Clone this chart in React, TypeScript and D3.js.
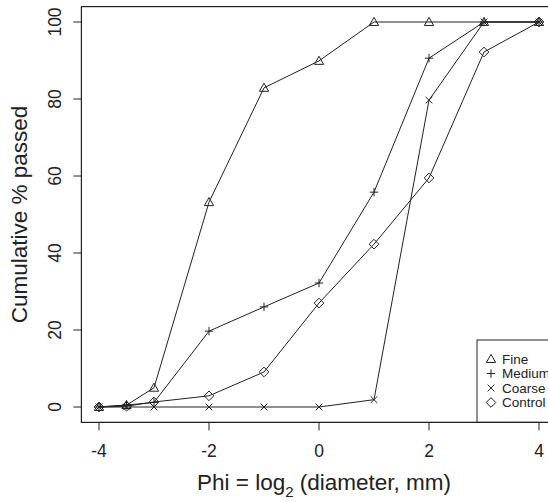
import React from "react";
import * as d3 from "d3";

const phi = [-4, -3.5, -3, -2, -1, 0, 1, 2, 3, 4];
const fine = [0, 0.5, 5, 53.2, 82.9, 89.9, 100, 100, 100, 100];
const medium = [0, 0.5, 1.2, 19.7, 26, 32.2, 55.8, 90.6, 100, 100];
const coarse = [0, 0, 0, 0, 0, 0, 1.9, 79.7, 100, 100];
const control = [0, 0.2, 1.3, 2.9, 9.1, 27, 42.3, 59.5, 92.2, 100];
const seriesNames = ["Fine", "Medium", "Coarse", "Control"];
const xTicks = [-4, -2, 0, 2, 4];
const yTicks = [0, 20, 40, 60, 80, 100];

const W = 548, H = 502;
const INK = "#222";
const FONT = "'Liberation Sans', Arial, Helvetica, sans-serif";

function Marker({ kind, x, y }: { kind: string; x: number; y: number }) {
  const s = 4.2;
  if (kind === "Fine") {
    const h = s * 1.1;
    return <path d={`M${x},${y - h} L${x + h},${y + h * 0.75} L${x - h},${y + h * 0.75} Z`} fill="none" stroke={INK} strokeWidth={1} />;
  }
  if (kind === "Medium") {
    return <path d={`M${x - s},${y} H${x + s} M${x},${y - s} V${y + s}`} stroke={INK} strokeWidth={1} />;
  }
  if (kind === "Coarse") {
    const t = s * 0.8;
    return <path d={`M${x - t},${y - t} L${x + t},${y + t} M${x - t},${y + t} L${x + t},${y - t}`} stroke={INK} strokeWidth={1} />;
  }
  const d = s * 1.15;
  return <path d={`M${x},${y - d} L${x + d},${y} L${x},${y + d} L${x - d},${y} Z`} fill="none" stroke={INK} strokeWidth={1} />;
}

export default function App() {
  const x = d3.scaleLinear().domain([-4, 4]).range([99, 539]);
  const y = d3.scaleLinear().domain([0, 100]).range([407, 22]);
  const left = x(-4.32), right = x(4.32), top = y(104), bottom = y(-4);
  const series = [fine, medium, coarse, control];
  const line = d3.line<number>().x((_, i) => x(phi[i])).y((v) => y(v));
  const legX = 477, legY = 340;

  return (
    <svg width={W} height={H} style={{ position: "absolute", left: 0, top: 0, background: "#fff" }} fontFamily={FONT}>
      <rect x={0} y={0} width={W} height={H} fill="#fff" />
      {series.map((vals, si) => (
        <g key={si}>
          <path d={line(vals) || ""} fill="none" stroke={INK} strokeWidth={1} />
          {vals.map((v, i) => (
            <Marker key={i} kind={seriesNames[si]} x={x(phi[i])} y={y(v)} />
          ))}
        </g>
      ))}
      {/* legend */}
      <rect x={legX} y={legY} width={right - legX} height={bottom - legY} fill="#fff" stroke={INK} strokeWidth={1} />
      {seriesNames.map((n, i) => (
        <g key={n}>
          <Marker kind={n} x={legX + 14} y={legY + 19 + i * 14.5} />
          <text x={legX + 25} y={legY + 19 + i * 14.5} dy="0.35em" fontSize={13.5} fill={INK}>{n}</text>
        </g>
      ))}
      {/* box */}
      <rect x={left} y={top} width={right - left} height={bottom - top} fill="none" stroke={INK} strokeWidth={1.2} />
      {/* x axis */}
      <line x1={x(-4)} x2={x(4)} y1={bottom} y2={bottom} stroke={INK} />
      {xTicks.map((t) => (
        <g key={t}>
          <line x1={x(t)} x2={x(t)} y1={bottom} y2={bottom + 8} stroke={INK} />
          <text x={x(t)} y={451} dy="0.35em" textAnchor="middle" fontSize={17.5} fill={INK}>{t}</text>
        </g>
      ))}
      {/* y axis */}
      {yTicks.map((t) => (
        <g key={t}>
          <line x1={left - 8} x2={left} y1={y(t)} y2={y(t)} stroke={INK} />
          <text transform={`translate(55,${y(t)}) rotate(-90)`} dy="0.35em" textAnchor="middle" fontSize={17.5} fill={INK}>{t}</text>
        </g>
      ))}
      <text transform={`translate(19,${(top + bottom) / 2}) rotate(-90)`} dy="0.35em" textAnchor="middle" fontSize={22.5} fill={INK}>Cumulative % passed</text>
      <text x={324} y={490} textAnchor="middle" fontSize={22.5} fill={INK}>
        Phi = log<tspan dy={7} fontSize={15}>2</tspan><tspan dy={-7}> (diameter, mm)</tspan>
      </text>
    </svg>
  );
}
